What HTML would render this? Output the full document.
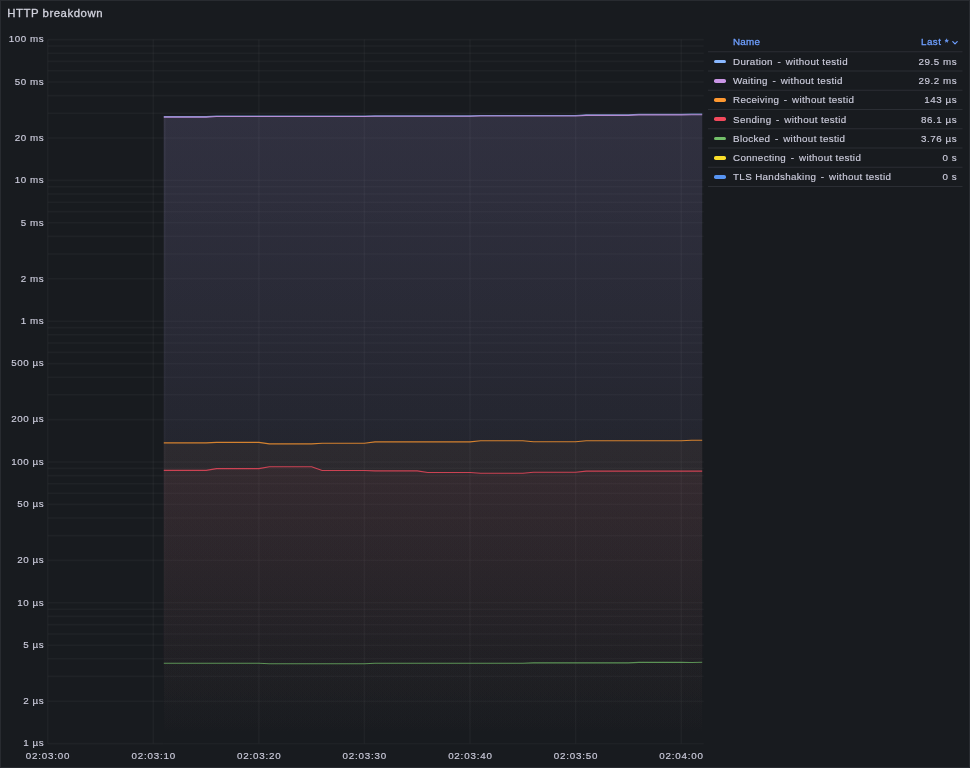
<!DOCTYPE html>
<html lang="en">
<head>
<meta charset="utf-8">
<title>HTTP breakdown</title>
<style>
html,body{margin:0;padding:0;background:#181b1f;}
body{width:970px;height:768px;overflow:hidden;position:relative;font-family:"Liberation Sans",Arial,sans-serif;color:#ccccdc;}
.panel{position:absolute;left:0;top:0;width:970px;height:768px;box-sizing:border-box;border:1px solid #282b30;background:#181b1f;}
.title{position:absolute;left:6.3px;top:4.4px;font-size:11.4px;line-height:16px;font-weight:400;color:#d2d3de;white-space:nowrap;letter-spacing:0.52px;-webkit-text-stroke:0.3px #d2d3de;}
.chart{position:absolute;left:0;top:0;}
.ax text{font-size:9.8px;fill:#ccccdc;stroke:#ccccdc;stroke-width:0.15px;font-family:"Liberation Sans",Arial,sans-serif;}
.ay text{letter-spacing:0.55px;}
.axx text{letter-spacing:0.8px;}
.legend{position:absolute;left:708px;top:33px;width:254.5px;height:160px;font-size:9.8px;letter-spacing:0.36px;}
.legend svg.seps{position:absolute;left:0;top:0;}
.legend svg.seps line{stroke:#2b2e34;stroke-width:1.1;}
.legend .row{position:absolute;left:0;width:254.5px;height:18.25px;line-height:18.25px;white-space:nowrap;-webkit-text-stroke:0.15px #ccccdc;}
.legend .head{top:-0.45px;color:#6e9fff;-webkit-text-stroke:0.3px #6e9fff;}
.legend .head .lb{left:25px;top:0.2px;letter-spacing:0.25px;}
.sw{position:absolute;left:6.1px;top:7.9px;width:12.2px;height:3.6px;border-radius:1.8px;}
.lb{position:absolute;left:25px;top:1px;}
.lb i{font-style:normal;margin:0 1.5px;white-space:pre;}
.v{position:absolute;right:5.4px;top:1px;text-align:right;letter-spacing:0.55px;}
.head .v{right:13.5px;top:0.2px;letter-spacing:0.5px;}
.chev{position:absolute;right:4.9px;top:8.5px;}
</style>
</head>
<body>
<div class="panel">
<div class="title">HTTP breakdown</div>
</div>
<svg class="chart" width="970" height="768" viewBox="0 0 970 768">
<defs>
<linearGradient id="g0" gradientUnits="userSpaceOnUse" x1="0" y1="39.6" x2="0" y2="743.6"><stop offset="0" stop-color="#8AB8FF" stop-opacity="0.075"/><stop offset="1" stop-color="#8AB8FF" stop-opacity="0"/></linearGradient>
<linearGradient id="g1" gradientUnits="userSpaceOnUse" x1="0" y1="39.6" x2="0" y2="743.6"><stop offset="0" stop-color="#CA95E5" stop-opacity="0.112"/><stop offset="1" stop-color="#CA95E5" stop-opacity="0"/></linearGradient>
<linearGradient id="g2" gradientUnits="userSpaceOnUse" x1="0" y1="39.6" x2="0" y2="743.6"><stop offset="0" stop-color="#FF9830" stop-opacity="0.1"/><stop offset="1" stop-color="#FF9830" stop-opacity="0"/></linearGradient>
<linearGradient id="g3" gradientUnits="userSpaceOnUse" x1="0" y1="39.6" x2="0" y2="743.6"><stop offset="0" stop-color="#F2495C" stop-opacity="0.12"/><stop offset="1" stop-color="#F2495C" stop-opacity="0"/></linearGradient>
<linearGradient id="g4" gradientUnits="userSpaceOnUse" x1="0" y1="39.6" x2="0" y2="743.6"><stop offset="0" stop-color="#73BF69" stop-opacity="0.04"/><stop offset="1" stop-color="#73BF69" stop-opacity="0"/></linearGradient>
<linearGradient id="gb" gradientUnits="userSpaceOnUse" x1="0" y1="39.6" x2="0" y2="743.6"><stop offset="0" stop-color="#dcdcff" stop-opacity="0.05"/><stop offset="1" stop-color="#dcdcff" stop-opacity="0"/></linearGradient>
</defs>
<g class="grid" fill="none" stroke="#f0faff" stroke-width="1.6">
<path d="M47.7 39.6V743.6M153.3 39.6V743.6M258.9 39.6V743.6M364.4 39.6V743.6M470.0 39.6V743.6M575.6 39.6V743.6M681.2 39.6V743.6" stroke-opacity="0.031"/>
<path d="M47.7 743.6H163.8M47.7 701.2H163.8M47.7 676.4H163.8M47.7 658.8H163.8M47.7 645.2H163.8M47.7 634.0H163.8M47.7 624.6H163.8M47.7 616.4H163.8M47.7 609.2H163.8M47.7 602.8H163.8M47.7 560.4H163.8M47.7 535.6H163.8M47.7 518.0H163.8M47.7 504.4H163.8M47.7 493.2H163.8M47.7 483.8H163.8M47.7 475.6H163.8M47.7 468.4H163.8M47.7 462.0H163.8M47.7 419.6H163.8M47.7 394.8H163.8M47.7 377.2H163.8M47.7 363.6H163.8M47.7 352.4H163.8M47.7 343.0H163.8M47.7 334.8H163.8M47.7 327.6H163.8M47.7 321.2H163.8M47.7 278.8H163.8M47.7 254.0H163.8M47.7 236.4H163.8M47.7 222.8H163.8M47.7 211.6H163.8M47.7 202.2H163.8M47.7 194.0H163.8M47.7 186.8H163.8M47.7 180.4H163.8M47.7 138.0H163.8M47.7 113.2H703.8M47.7 95.6H703.8M47.7 82.0H703.8M47.7 70.8H703.8M47.7 61.4H703.8M47.7 53.2H703.8M47.7 46.0H703.8M47.7 39.6H703.8" stroke-opacity="0.031"/>
<path d="M163.8 743.6H703.8M163.8 701.2H703.8M163.8 676.4H703.8M163.8 658.8H703.8M163.8 645.2H703.8M163.8 634.0H703.8M163.8 624.6H703.8M163.8 616.4H703.8M163.8 609.2H703.8M163.8 602.8H703.8M163.8 560.4H703.8M163.8 535.6H703.8M163.8 518.0H703.8M163.8 504.4H703.8M163.8 493.2H703.8M163.8 483.8H703.8M163.8 475.6H703.8M163.8 468.4H703.8M163.8 462.0H703.8M163.8 419.6H703.8M163.8 394.8H703.8M163.8 377.2H703.8M163.8 363.6H703.8M163.8 352.4H703.8M163.8 343.0H703.8M163.8 334.8H703.8M163.8 327.6H703.8M163.8 321.2H703.8M163.8 278.8H703.8M163.8 254.0H703.8M163.8 236.4H703.8M163.8 222.8H703.8M163.8 211.6H703.8M163.8 202.2H703.8M163.8 194.0H703.8M163.8 186.8H703.8M163.8 180.4H703.8M163.8 138.0H703.8" stroke-opacity="0.027"/>
</g>
<path d="M163.8 116.6 L174.4 116.6 L185.0 116.6 L195.5 116.6 L206.1 116.6 L216.6 116.0 L227.2 116.0 L237.7 116.0 L248.3 116.0 L258.9 116.0 L269.4 116.0 L280.0 116.0 L290.5 116.0 L301.1 116.0 L311.6 116.0 L322.2 116.0 L332.8 116.0 L343.3 116.0 L353.9 116.0 L364.4 116.0 L375.0 115.9 L385.6 115.9 L396.1 115.9 L406.7 115.9 L417.2 115.9 L427.8 115.9 L438.3 115.9 L448.9 115.9 L459.5 115.9 L470.0 115.9 L480.6 115.5 L491.1 115.5 L501.7 115.5 L512.3 115.5 L522.8 115.5 L533.4 115.5 L543.9 115.5 L554.5 115.5 L565.0 115.5 L575.6 115.5 L586.2 114.8 L596.7 114.8 L607.3 114.8 L617.8 114.8 L628.4 114.8 L638.9 114.2 L649.5 114.2 L660.1 114.2 L670.6 114.2 L681.2 114.2 L691.7 114.0 L702.2 114.0 L702.2 743.6 L163.8 743.6Z" fill="url(#g0)" stroke="none"/>
<path d="M163.8 117.1 L174.4 117.1 L185.0 117.1 L195.5 117.1 L206.1 117.1 L216.6 116.5 L227.2 116.5 L237.7 116.5 L248.3 116.5 L258.9 116.5 L269.4 116.5 L280.0 116.5 L290.5 116.5 L301.1 116.5 L311.6 116.5 L322.2 116.5 L332.8 116.5 L343.3 116.5 L353.9 116.5 L364.4 116.5 L375.0 116.3 L385.6 116.3 L396.1 116.3 L406.7 116.3 L417.2 116.3 L427.8 116.3 L438.3 116.3 L448.9 116.3 L459.5 116.3 L470.0 116.3 L480.6 116.0 L491.1 116.0 L501.7 116.0 L512.3 116.0 L522.8 116.0 L533.4 116.0 L543.9 116.0 L554.5 116.0 L565.0 116.0 L575.6 116.0 L586.2 115.4 L596.7 115.4 L607.3 115.4 L617.8 115.4 L628.4 115.4 L638.9 114.9 L649.5 114.9 L660.1 114.9 L670.6 114.9 L681.2 114.9 L691.7 114.7 L702.2 114.7 L702.2 743.6 L163.8 743.6Z" fill="url(#g1)" stroke="none"/>
<path d="M163.8 442.9 L174.4 442.9 L185.0 442.9 L195.5 442.9 L206.1 442.9 L216.6 442.4 L227.2 442.4 L237.7 442.4 L248.3 442.4 L258.9 442.4 L269.4 443.9 L280.0 443.9 L290.5 443.9 L301.1 443.9 L311.6 443.9 L322.2 443.2 L332.8 443.2 L343.3 443.2 L353.9 443.2 L364.4 443.2 L375.0 441.9 L385.6 441.9 L396.1 441.9 L406.7 441.9 L417.2 441.9 L427.8 441.9 L438.3 441.9 L448.9 441.9 L459.5 441.9 L470.0 441.9 L480.6 440.8 L491.1 440.8 L501.7 440.8 L512.3 440.8 L522.8 440.8 L533.4 441.8 L543.9 441.8 L554.5 441.8 L565.0 441.8 L575.6 441.8 L586.2 440.8 L596.7 440.8 L607.3 440.8 L617.8 440.8 L628.4 440.8 L638.9 440.8 L649.5 440.8 L660.1 440.8 L670.6 440.8 L681.2 440.8 L691.7 440.2 L702.2 440.2 L702.2 743.6 L163.8 743.6Z" fill="url(#g2)" stroke="none"/>
<path d="M163.8 470.4 L174.4 470.4 L185.0 470.4 L195.5 470.4 L206.1 470.4 L216.6 468.6 L227.2 468.6 L237.7 468.6 L248.3 468.6 L258.9 468.6 L269.4 466.7 L280.0 466.7 L290.5 466.7 L301.1 466.7 L311.6 466.7 L322.2 470.5 L332.8 470.5 L343.3 470.5 L353.9 470.5 L364.4 470.5 L375.0 470.9 L385.6 470.9 L396.1 470.9 L406.7 470.9 L417.2 470.9 L427.8 472.5 L438.3 472.5 L448.9 472.5 L459.5 472.5 L470.0 472.5 L480.6 473.2 L491.1 473.2 L501.7 473.2 L512.3 473.2 L522.8 473.2 L533.4 472.3 L543.9 472.3 L554.5 472.3 L565.0 472.3 L575.6 472.3 L586.2 471.1 L596.7 471.1 L607.3 471.1 L617.8 471.1 L628.4 471.1 L638.9 471.1 L649.5 471.1 L660.1 471.1 L670.6 471.1 L681.2 471.1 L691.7 471.1 L702.2 471.1 L702.2 743.6 L163.8 743.6Z" fill="url(#g3)" stroke="none"/>
<path d="M163.8 663.2 L174.4 663.2 L185.0 663.2 L195.5 663.2 L206.1 663.2 L216.6 663.2 L227.2 663.2 L237.7 663.2 L248.3 663.2 L258.9 663.2 L269.4 663.7 L280.0 663.7 L290.5 663.7 L301.1 663.7 L311.6 663.7 L322.2 663.7 L332.8 663.7 L343.3 663.7 L353.9 663.7 L364.4 663.7 L375.0 663.3 L385.6 663.3 L396.1 663.3 L406.7 663.3 L417.2 663.3 L427.8 663.3 L438.3 663.3 L448.9 663.3 L459.5 663.3 L470.0 663.3 L480.6 663.3 L491.1 663.3 L501.7 663.3 L512.3 663.3 L522.8 663.3 L533.4 662.9 L543.9 662.9 L554.5 662.9 L565.0 662.9 L575.6 662.9 L586.2 662.9 L596.7 662.9 L607.3 662.9 L617.8 662.9 L628.4 662.9 L638.9 662.4 L649.5 662.4 L660.1 662.4 L670.6 662.4 L681.2 662.4 L691.7 662.5 L702.2 662.2 L702.2 743.6 L163.8 743.6Z" fill="url(#g4)" stroke="none"/>
<rect x="163.6" y="117.4" width="1.9" height="626.2" fill="url(#gb)"/>
<path d="M163.8 116.6 L174.4 116.6 L185.0 116.6 L195.5 116.6 L206.1 116.6 L216.6 116.0 L227.2 116.0 L237.7 116.0 L248.3 116.0 L258.9 116.0 L269.4 116.0 L280.0 116.0 L290.5 116.0 L301.1 116.0 L311.6 116.0 L322.2 116.0 L332.8 116.0 L343.3 116.0 L353.9 116.0 L364.4 116.0 L375.0 115.9 L385.6 115.9 L396.1 115.9 L406.7 115.9 L417.2 115.9 L427.8 115.9 L438.3 115.9 L448.9 115.9 L459.5 115.9 L470.0 115.9 L480.6 115.5 L491.1 115.5 L501.7 115.5 L512.3 115.5 L522.8 115.5 L533.4 115.5 L543.9 115.5 L554.5 115.5 L565.0 115.5 L575.6 115.5 L586.2 114.8 L596.7 114.8 L607.3 114.8 L617.8 114.8 L628.4 114.8 L638.9 114.2 L649.5 114.2 L660.1 114.2 L670.6 114.2 L681.2 114.2 L691.7 114.0 L702.2 114.0" fill="none" stroke="#8AB8FF" stroke-opacity="0.7" stroke-width="1.1" stroke-linejoin="round"/>
<path d="M163.8 117.1 L174.4 117.1 L185.0 117.1 L195.5 117.1 L206.1 117.1 L216.6 116.5 L227.2 116.5 L237.7 116.5 L248.3 116.5 L258.9 116.5 L269.4 116.5 L280.0 116.5 L290.5 116.5 L301.1 116.5 L311.6 116.5 L322.2 116.5 L332.8 116.5 L343.3 116.5 L353.9 116.5 L364.4 116.5 L375.0 116.3 L385.6 116.3 L396.1 116.3 L406.7 116.3 L417.2 116.3 L427.8 116.3 L438.3 116.3 L448.9 116.3 L459.5 116.3 L470.0 116.3 L480.6 116.0 L491.1 116.0 L501.7 116.0 L512.3 116.0 L522.8 116.0 L533.4 116.0 L543.9 116.0 L554.5 116.0 L565.0 116.0 L575.6 116.0 L586.2 115.4 L596.7 115.4 L607.3 115.4 L617.8 115.4 L628.4 115.4 L638.9 114.9 L649.5 114.9 L660.1 114.9 L670.6 114.9 L681.2 114.9 L691.7 114.7 L702.2 114.7" fill="none" stroke="#CA95E5" stroke-opacity="0.85" stroke-width="1.1" stroke-linejoin="round"/>
<path d="M163.8 442.9 L174.4 442.9 L185.0 442.9 L195.5 442.9 L206.1 442.9 L216.6 442.4 L227.2 442.4 L237.7 442.4 L248.3 442.4 L258.9 442.4 L269.4 443.9 L280.0 443.9 L290.5 443.9 L301.1 443.9 L311.6 443.9 L322.2 443.2 L332.8 443.2 L343.3 443.2 L353.9 443.2 L364.4 443.2 L375.0 441.9 L385.6 441.9 L396.1 441.9 L406.7 441.9 L417.2 441.9 L427.8 441.9 L438.3 441.9 L448.9 441.9 L459.5 441.9 L470.0 441.9 L480.6 440.8 L491.1 440.8 L501.7 440.8 L512.3 440.8 L522.8 440.8 L533.4 441.8 L543.9 441.8 L554.5 441.8 L565.0 441.8 L575.6 441.8 L586.2 440.8 L596.7 440.8 L607.3 440.8 L617.8 440.8 L628.4 440.8 L638.9 440.8 L649.5 440.8 L660.1 440.8 L670.6 440.8 L681.2 440.8 L691.7 440.2 L702.2 440.2" fill="none" stroke="#FF9830" stroke-opacity="0.8" stroke-width="1.1" stroke-linejoin="round"/>
<path d="M163.8 470.4 L174.4 470.4 L185.0 470.4 L195.5 470.4 L206.1 470.4 L216.6 468.6 L227.2 468.6 L237.7 468.6 L248.3 468.6 L258.9 468.6 L269.4 466.7 L280.0 466.7 L290.5 466.7 L301.1 466.7 L311.6 466.7 L322.2 470.5 L332.8 470.5 L343.3 470.5 L353.9 470.5 L364.4 470.5 L375.0 470.9 L385.6 470.9 L396.1 470.9 L406.7 470.9 L417.2 470.9 L427.8 472.5 L438.3 472.5 L448.9 472.5 L459.5 472.5 L470.0 472.5 L480.6 473.2 L491.1 473.2 L501.7 473.2 L512.3 473.2 L522.8 473.2 L533.4 472.3 L543.9 472.3 L554.5 472.3 L565.0 472.3 L575.6 472.3 L586.2 471.1 L596.7 471.1 L607.3 471.1 L617.8 471.1 L628.4 471.1 L638.9 471.1 L649.5 471.1 L660.1 471.1 L670.6 471.1 L681.2 471.1 L691.7 471.1 L702.2 471.1" fill="none" stroke="#F2495C" stroke-opacity="0.8" stroke-width="1.1" stroke-linejoin="round"/>
<path d="M163.8 663.2 L174.4 663.2 L185.0 663.2 L195.5 663.2 L206.1 663.2 L216.6 663.2 L227.2 663.2 L237.7 663.2 L248.3 663.2 L258.9 663.2 L269.4 663.7 L280.0 663.7 L290.5 663.7 L301.1 663.7 L311.6 663.7 L322.2 663.7 L332.8 663.7 L343.3 663.7 L353.9 663.7 L364.4 663.7 L375.0 663.3 L385.6 663.3 L396.1 663.3 L406.7 663.3 L417.2 663.3 L427.8 663.3 L438.3 663.3 L448.9 663.3 L459.5 663.3 L470.0 663.3 L480.6 663.3 L491.1 663.3 L501.7 663.3 L512.3 663.3 L522.8 663.3 L533.4 662.9 L543.9 662.9 L554.5 662.9 L565.0 662.9 L575.6 662.9 L586.2 662.9 L596.7 662.9 L607.3 662.9 L617.8 662.9 L628.4 662.9 L638.9 662.4 L649.5 662.4 L660.1 662.4 L670.6 662.4 L681.2 662.4 L691.7 662.5 L702.2 662.2" fill="none" stroke="#73BF69" stroke-opacity="0.72" stroke-width="1.1" stroke-linejoin="round"/>
<g class="ax ay" text-anchor="end">
<text x="44.2" y="42.4">100 ms</text>
<text x="44.2" y="84.8">50 ms</text>
<text x="44.2" y="140.8">20 ms</text>
<text x="44.2" y="183.2">10 ms</text>
<text x="44.2" y="225.6">5 ms</text>
<text x="44.2" y="281.6">2 ms</text>
<text x="44.2" y="324.0">1 ms</text>
<text x="44.2" y="366.4">500 µs</text>
<text x="44.2" y="422.4">200 µs</text>
<text x="44.2" y="464.8">100 µs</text>
<text x="44.2" y="507.2">50 µs</text>
<text x="44.2" y="563.2">20 µs</text>
<text x="44.2" y="605.6">10 µs</text>
<text x="44.2" y="648.0">5 µs</text>
<text x="44.2" y="704.0">2 µs</text>
<text x="44.2" y="746.4">1 µs</text>
</g>
<g class="ax axx" text-anchor="middle">
<text x="48.1" y="759.3">02:03:00</text>
<text x="153.7" y="759.3">02:03:10</text>
<text x="259.3" y="759.3">02:03:20</text>
<text x="364.8" y="759.3">02:03:30</text>
<text x="470.4" y="759.3">02:03:40</text>
<text x="576.0" y="759.3">02:03:50</text>
<text x="681.6" y="759.3">02:04:00</text>
</g>
</svg>
<div class="legend">
<svg class="seps" width="255" height="160" viewBox="0 0 255 160"><line x1="0" x2="254.5" y1="18.80" y2="18.80"/><line x1="0" x2="254.5" y1="38.05" y2="38.05"/><line x1="0" x2="254.5" y1="57.30" y2="57.30"/><line x1="0" x2="254.5" y1="76.55" y2="76.55"/><line x1="0" x2="254.5" y1="95.80" y2="95.80"/><line x1="0" x2="254.5" y1="115.05" y2="115.05"/><line x1="0" x2="254.5" y1="134.30" y2="134.30"/><line x1="0" x2="254.5" y1="153.55" y2="153.55"/></svg>
<div class="row head"><span class="lb">Name</span><span class="v">Last *</span><svg class="chev" width="6" height="4" viewBox="0 0 6 4"><path d="M0.8 0.7L3 2.9L5.2 0.7" fill="none" stroke="#6e9fff" stroke-width="1.2" stroke-linecap="round" stroke-linejoin="round"/></svg></div>
<div class="row" style="top:18.80px"><span class="sw" style="background:#8AB8FF"></span><span class="lb">Duration<i> - </i>without testid</span><span class="v">29.5 ms</span></div>
<div class="row" style="top:38.05px"><span class="sw" style="background:#CA95E5"></span><span class="lb">Waiting<i> - </i>without testid</span><span class="v">29.2 ms</span></div>
<div class="row" style="top:57.30px"><span class="sw" style="background:#FF9830"></span><span class="lb">Receiving<i> - </i>without testid</span><span class="v">143 µs</span></div>
<div class="row" style="top:76.55px"><span class="sw" style="background:#F2495C"></span><span class="lb">Sending<i> - </i>without testid</span><span class="v">86.1 µs</span></div>
<div class="row" style="top:95.80px"><span class="sw" style="background:#73BF69"></span><span class="lb">Blocked<i> - </i>without testid</span><span class="v">3.76 µs</span></div>
<div class="row" style="top:115.05px"><span class="sw" style="background:#FADE2A"></span><span class="lb">Connecting<i> - </i>without testid</span><span class="v">0 s</span></div>
<div class="row" style="top:134.30px"><span class="sw" style="background:#5794F2"></span><span class="lb">TLS Handshaking<i> - </i>without testid</span><span class="v">0 s</span></div>
</div>
</body>
</html>
